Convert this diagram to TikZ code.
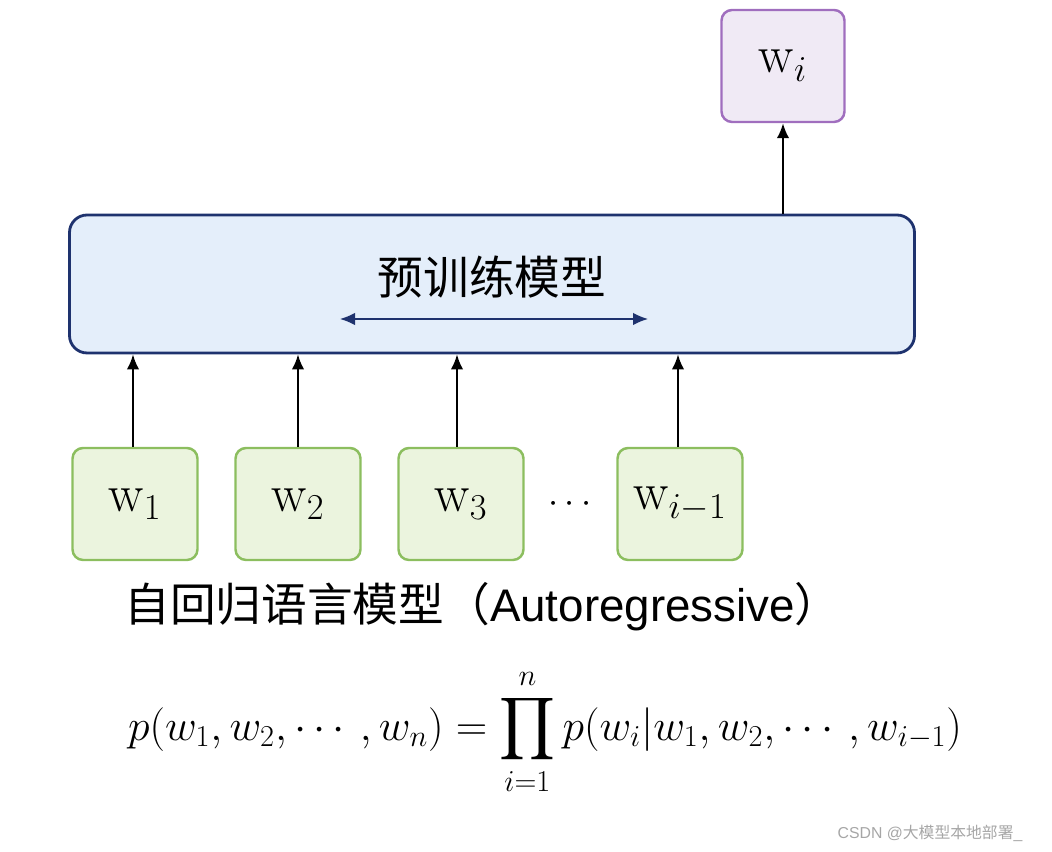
\documentclass[tikz,border=0pt]{standalone}
\usepackage{fontspec}
\usepackage{amsmath}
\newfontfamily\cjk{Noto Sans CJK SC}
\newfontfamily\sans{Liberation Sans}
\usetikzlibrary{arrows.meta}
\usetikzlibrary{calc,positioning}
\definecolor{tokfill}{RGB}{235,244,222}
\definecolor{tokdraw}{RGB}{140,190,95}
\definecolor{outfill}{RGB}{240,234,245}
\definecolor{outdraw}{RGB}{160,110,190}
\definecolor{modfill}{RGB}{228,238,250}
\definecolor{moddraw}{RGB}{30,50,110}
\tikzset{%
  >={Latex[width=2.5mm,length=3mm]},
  % Specifications for style of nodes:
  token/.style = {rectangle, rounded corners=6pt, draw=tokdraw, line width=1.4pt,
    fill=tokfill, minimum width=2.5cm, minimum height=2.24cm, font=\fontsize{30}{34}\selectfont},
  output/.style = {token, draw=outdraw, fill=outfill, minimum width=2.46cm},
  model/.style = {rectangle, rounded corners=10pt, draw=moddraw, line width=1.6pt,
    fill=modfill, minimum width=16.9cm, minimum height=2.76cm},
}

\begin{document}
\begin{tikzpicture}[line width=1.2pt]
        \useasboundingbox (0,0) rectangle (21.04,17.04);
        % Specification of nodes (position, etc.)
        \node(Model)[model] at (9.84,11.36){};
        \node(ModelTxt) at (9.84,11.5){\cjk\fontsize{26}{30}\selectfont 预训练模型};
        \coordinate(L) at (6.8,10.66);
        \coordinate(R) at (12.96,10.66);
        \draw[<->, draw=moddraw, line width=0.8pt](L) -- (R);
        \node(Out)[output] at (15.66,15.72){$\mathrm{w}_i$};
        \node(W1)[token] at (2.7,6.96){$\mathrm{w}_1$};
        \node(W2)[token] at (5.96,6.96){$\mathrm{w}_2$};
        \node(W3)[token] at (9.22,6.96){$\mathrm{w}_3$};
        \node(Dots) at (11.46,6.96){\fontsize{22}{24}\selectfont$\cdots$};
        \node(Wi)[token] at (13.6,6.96){$\mathrm{w}_{i-1}$};
        \draw[->](Model.north -| Out) -- (Out);
        \draw[->](W1.north -| 2.66,0) -- (Model.south -| 2.66,0);
        \draw[->](W2) -- (Model.south -| W2);
        \draw[->](W3.north -| 9.14,0) -- (Model.south -| 9.14,0);
        \draw[->](Wi.north -| 13.56,0) -- (Model.south -| 13.56,0);
        \node(Caption) at (9.65,4.9){\fontsize{26}{30}\selectfont{\cjk 自回归语言模型（}{\sans Autoregressive}{\cjk ）}};
        \node(Formula) at (10.9,2.4){\fontsize{27}{32}\selectfont
          $\displaystyle p(w_1,w_2,\cdots,w_n)=\prod_{i=1}^{n}p(w_i|w_1,w_2,\cdots,w_{i-1})$};
        \node(Mark)[text=gray!70, font=\sans\fontsize{9}{10}\selectfont] at (18.6,0.38){CSDN @{\cjk 大模型本地部署}\_};
    \end{tikzpicture}
\end{document}
